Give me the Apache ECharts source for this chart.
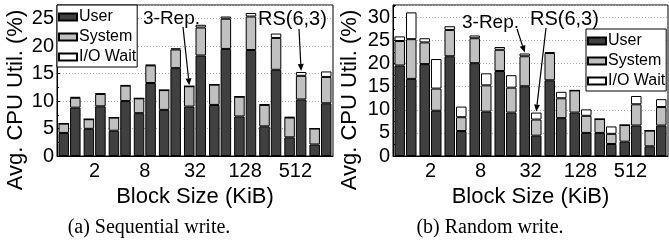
<!DOCTYPE html>
<html><head><meta charset="utf-8">
<script src="https://cdn.jsdelivr.net/npm/echarts@6/dist/echarts.min.js"></script>
<style>html,body{margin:0;padding:0;background:#fff}#c{width:669px;height:242px}</style>
</head><body><div id="c"></div>
<script>
// Block sizes (KiB)
const categories = ['1','2','4','8','16','32','64','128','256','512','1024'];
const legendNames = ['User','System','I/O Wait'];
const yTicksSeq = [0,5,10,15,20,25];
const yTicksRand = [0,5,10,15,20,25,30];

// (a) Sequential write — 3-Rep.
const seqRepUser = [4.2,4.95,4.6,7.8,8.4,9.0,9.3,7.2,5.4,3.4,2.1];
const seqRepSys  = [1.7,1.75,2.4,2.7,3.6,3.7,3.7,3.6,3.9,3.6,2.9];
const seqRepIO   = [0,0,0,0,0,0,0,0,0.1,0.1,0];
// (a) Sequential write — RS(6,3)
const seqRsUser  = [8.8,9.05,10.0,13.3,16.0,18.3,19.5,19.3,15.7,10.3,9.6];
const seqRsSys   = [1.8,2.25,2.8,3.2,3.4,5.1,5.5,6.1,5.8,4.3,4.8];
const seqRsIO    = [0.15,0.1,0.1,0.1,0.2,0.5,0.4,0.65,0.8,0.7,1.0];

// (b) Random write — 3-Rep.
const rndRepUser = [19.6,19.9,21.6,20.1,18.4,15.1,16.4,9.4,5.0,3.1,2.1];
const rndRepSys  = [5.3,4.7,5.7,5.4,4.6,6.5,5.9,4.8,3.0,3.6,3.4];
const rndRepIO   = [1.0,0.9,0.8,0.6,0.6,0.6,0.2,0,0,0,0];
// (b) Random write — RS(6,3)
const rndRsUser  = [16.7,9.8,5.4,9.6,9.4,4.4,8.2,5.0,2.6,6.6,6.6];
const rndRsSys   = [8.6,4.8,3.0,5.7,5.4,3.5,4.3,3.7,2.2,4.6,4.0];
const rndRsIO    = [5.8,6.4,2.3,2.6,2.7,1.5,1.4,1.4,1.6,1.8,1.7];

const FONT = '"Liberation Sans", Arial, Helvetica, sans-serif';
const SERIF = '"Liberation Serif", "Times New Roman", serif';
const colors = ['#404040', '#c0c0c0', '#ffffff'];
const BW = 10.5;

const chart = echarts.init(document.getElementById('c'), null, {renderer: 'canvas'});

function bar(name, stack, data, color, idx) {
  return {
    type: 'bar', name, stack, data, xAxisIndex: idx, yAxisIndex: idx,
    barWidth: BW, barGap: '10%',
    itemStyle: {color, borderColor: '#000', borderWidth: 1},
    emphasis: {disabled: true}, silent: true, animation: false
  };
}

function xAxis(idx) {
  return {
    type: 'category', gridIndex: idx, data: categories,
    axisLine: {show: true, lineStyle: {color: '#000', width: 1}},
    axisTick: {show: false},
    axisLabel: {interval: (i) => i % 2 === 1, fontSize: 20, color: '#000', fontFamily: FONT, margin: 5},
    name: 'Block Size (KiB)', nameLocation: 'middle', nameGap: 20,
    nameTextStyle: {fontSize: 22, color: '#000', fontFamily: FONT, verticalAlign: 'top'}
  };
}

function yAxis(idx, max, ticks) {
  return {
    type: 'value', gridIndex: idx, min: 0, max, interval: 5,
    axisLine: {show: true, lineStyle: {color: '#000'}},
    axisTick: {show: true, inside: true, length: 3, lineStyle: {color: '#000'}},
    minorTick: {show: true, splitNumber: 2, length: 2, lineStyle: {color: '#000'}},
    axisLabel: {fontSize: 20, color: '#000', fontFamily: FONT, margin: 3,
      formatter: (v) => ticks.indexOf(v) >= 0 ? String(v) : ''},
    splitLine: {show: true, lineStyle: {color: '#aaa', type: [1, 2], width: 1}}
  };
}

function legend(left, top) {
  return {
    left, top, orient: 'vertical', data: legendNames, icon: 'rect',
    itemWidth: 18, itemHeight: 7, itemGap: 4, padding: [4, 1, 2, 1],
    backgroundColor: '#fff', borderColor: '#000', borderWidth: 1, borderRadius: 0,
    selectedMode: false,
    textStyle: {fontSize: 16, color: '#000', fontFamily: FONT, padding: [0, 0, 0, -3]}
  };
}

chart.setOption({
  animation: false,
  grid: [
    {left: 57, right: 336, top: 5, height: 151, show: true, borderColor: '#000', borderWidth: 1},
    {left: 393, right: 1, top: 5, height: 151, show: true, borderColor: '#000', borderWidth: 1}
  ],
  xAxis: [xAxis(0), xAxis(1)],
  yAxis: [yAxis(0, 27.5, yTicksSeq), yAxis(1, 32.7, yTicksRand)],
  legend: [legend(57, 5), legend(586, 29)],
  series: [
    bar('User', 'rep0', seqRepUser, colors[0], 0),
    bar('System', 'rep0', seqRepSys, colors[1], 0),
    bar('I/O Wait', 'rep0', seqRepIO, colors[2], 0),
    bar('User', 'rs0', seqRsUser, colors[0], 0),
    bar('System', 'rs0', seqRsSys, colors[1], 0),
    bar('I/O Wait', 'rs0', seqRsIO, colors[2], 0),
    bar('User', 'rep1', rndRepUser, colors[0], 1),
    bar('System', 'rep1', rndRepSys, colors[1], 1),
    bar('I/O Wait', 'rep1', rndRepIO, colors[2], 1),
    bar('User', 'rs1', rndRsUser, colors[0], 1),
    bar('System', 'rs1', rndRsSys, colors[1], 1),
    bar('I/O Wait', 'rs1', rndRsIO, colors[2], 1)
  ]
});

// Annotation helpers: arrow tips are placed at the top of the referenced bar
function barTop(idx, cat, parts, side) {
  const total = parts.reduce((s, a) => s + a[cat], 0);
  const p = chart.convertToPixel({xAxisIndex: idx, yAxisIndex: idx}, [cat, total]);
  return [p[0] + side * (BW / 2 + 0.5), p[1] - 1];
}
function arrow(from, to) {
  const dx = to[0] - from[0], dy = to[1] - from[1];
  const len = Math.sqrt(dx * dx + dy * dy);
  const ux = dx / len, uy = dy / len;
  const hl = 7, hw = 3;
  const bx = to[0] - ux * hl, by = to[1] - uy * hl;
  return [
    {type: 'line', shape: {x1: from[0], y1: from[1], x2: bx, y2: by}, style: {stroke: '#000', lineWidth: 1.2}, z: 100},
    {type: 'polygon', shape: {points: [[to[0], to[1]], [bx - uy * hw, by + ux * hw], [bx + uy * hw, by - ux * hw]]}, style: {fill: '#000'}, z: 100}
  ];
}
function txt(x, y, s, size, family, align, rot) {
  return {type: 'text', x, y, rotation: rot || 0, z: 100,
    style: {text: s, fontSize: size, fontFamily: family, fill: '#000', align: align || 'left', verticalAlign: 'middle'}};
}

const g = [];
g.push(txt(16, 100, 'Avg. CPU Util. (%)', 22, FONT, 'center', Math.PI / 2));
g.push(txt(350, 100, 'Avg. CPU Util. (%)', 22, FONT, 'center', Math.PI / 2));
g.push(txt(149, 228, '(a) Sequential write.', 20, SERIF, 'center'));
g.push(txt(490, 228, '(b) Random write.', 20, SERIF, 'center'));
// panel (a)
g.push(txt(143, 19, '3-Rep.', 19, FONT));
g.push(...arrow([183, 27], barTop(0, 5, [seqRepUser, seqRepSys, seqRepIO], -1)));
g.push(txt(258, 19, 'RS(6,3)', 20, FONT));
g.push(...arrow([299, 29], barTop(0, 9, [seqRsUser, seqRsSys, seqRsIO], 1)));
// panel (b)
g.push(txt(462, 23, '3-Rep.', 19, FONT));
g.push(...arrow([517, 29], barTop(1, 5, [rndRepUser, rndRepSys, rndRepIO], -1)));
g.push(txt(530, 19, 'RS(6,3)', 20, FONT));
g.push(...arrow([546, 28], barTop(1, 5, [rndRsUser, rndRsSys, rndRsIO], 1)));
chart.setOption({graphic: g});
</script></body></html>
